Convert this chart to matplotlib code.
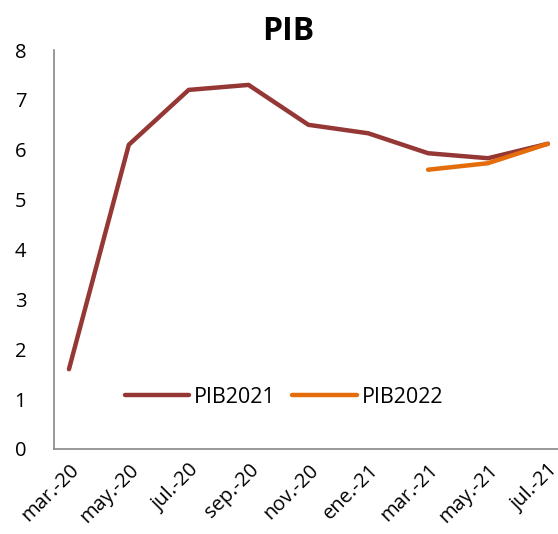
import numpy as np
import matplotlib.pyplot as plt

# datos
meses = ["mar.-20", "may.-20", "jul.-20", "sep.-20", "nov.-20",
         "ene.-21", "mar.-21", "may.-21", "jul.-21"]
pib2021 = [1.6, 6.1, 7.2, 7.3, 6.5, 6.33, 5.93, 5.83, 6.12]
pib2022 = [np.nan, np.nan, np.nan, np.nan, np.nan, np.nan, 5.6, 5.73, 6.12]

plt.rcParams['font.family'] = ['Open Sans', 'DejaVu Sans']

fig = plt.figure(figsize=(5.58, 5.34), dpi=100)
ax = fig.add_axes([54 / 558, 1 - 449 / 534, 504 / 558, 399 / 534])

x = np.arange(len(meses))
ax.plot(x, pib2021, color="#953735", lw=3.2, solid_capstyle="round",
        solid_joinstyle="round", label="PIB2021")
ax.plot(x, pib2022, color="#E46C0A", lw=3.2, solid_capstyle="round",
        solid_joinstyle="round", label="PIB2022")

ax.set_xlim(-0.25, 8.17)
ax.set_ylim(0, 8)
ax.set_yticks(range(0, 9))
ax.set_xticks(x)
ax.set_xticklabels(meses, rotation=45, ha="right", rotation_mode="anchor")
ax.tick_params(axis="both", length=0, labelsize=14.5)
ax.tick_params(axis="y", pad=20)
ax.tick_params(axis="x", pad=8)

for s in ["top", "right"]:
    ax.spines[s].set_visible(False)
for s in ["left", "bottom"]:
    ax.spines[s].set_color("#888888")
    ax.spines[s].set_linewidth(1.2)

fig.text(288 / 558, 1 - 31 / 534, "PIB", fontsize=23, fontweight="bold",
         ha="center", va="center")

ax.legend(loc="center", bbox_to_anchor=(0.456, 0.13), ncol=2, frameon=False,
          fontsize=15.5, handlelength=3.0, handletextpad=0.2, columnspacing=0.8)

plt.savefig("out.png", dpi=100)
